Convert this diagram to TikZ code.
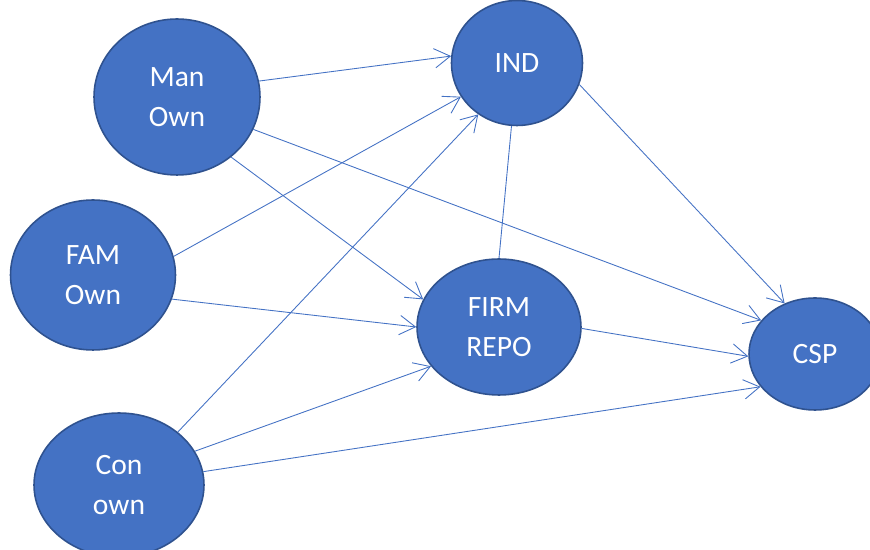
\documentclass[tikz,border=0pt]{standalone}
\usepackage{fontspec}
\setmainfont{Carlito}
\usetikzlibrary{shapes.geometric,arrows.meta}
\definecolor{fillblue}{HTML}{4472C4}
\definecolor{edgeblue}{HTML}{2F528F}
\begin{document}
\begin{tikzpicture}[x=.02cm, y=-.02cm, >={Straight Barb[length=9pt,width=11pt]},
  var/.style={ellipse, draw=edgeblue, line width=.9pt, fill=fillblue, text=white,
    align=center, inner sep=0pt, font=\fontsize{16.8}{22.8}\selectfont},
  link/.style={draw=fillblue, line width=.5pt}]
\useasboundingbox (0,0) rectangle (870,550);
\node[var, minimum width=3.32cm, minimum height=3.12cm](man) at (177,97) {Man\\Own};
\node[var, minimum width=2.62cm, minimum height=2.5cm](ind) at (517,63) {IND};
\node[var, minimum width=3.3cm, minimum height=3cm](fam) at (93,275) {FAM\\Own};
\node[var, minimum width=3.28cm, minimum height=2.72cm](firm) at (499,327) {FIRM\\REPO};
\node[var, minimum width=2.64cm, minimum height=2.24cm](csp) at (815,354) {CSP};
\node[var, minimum width=3.4cm, minimum height=2.88cm](con) at (119,485) {Con\\own};
% paths into IND
\draw[link,->](man.11)--(ind.174);
\draw[link,->](fam.13)--(ind.211);
\draw[link,->](con.42)--(ind.233);
% paths into FIRM REPO
\draw[link,->](man.-48)--(firm.160);
\draw[link,->](fam.-17)--(firm.180);
\draw[link,->](con.24)--(firm.210);
\draw[link](ind.265)--(firm.90);
% paths into CSP
\draw[link,->](ind.-19)--(csp.121);
\draw[link,->](man.-23)--(csp.148);
\draw[link,->](firm.-1)--(csp.182);
\draw[link,->](con.9)--(csp.211);
\end{tikzpicture}
\end{document}
